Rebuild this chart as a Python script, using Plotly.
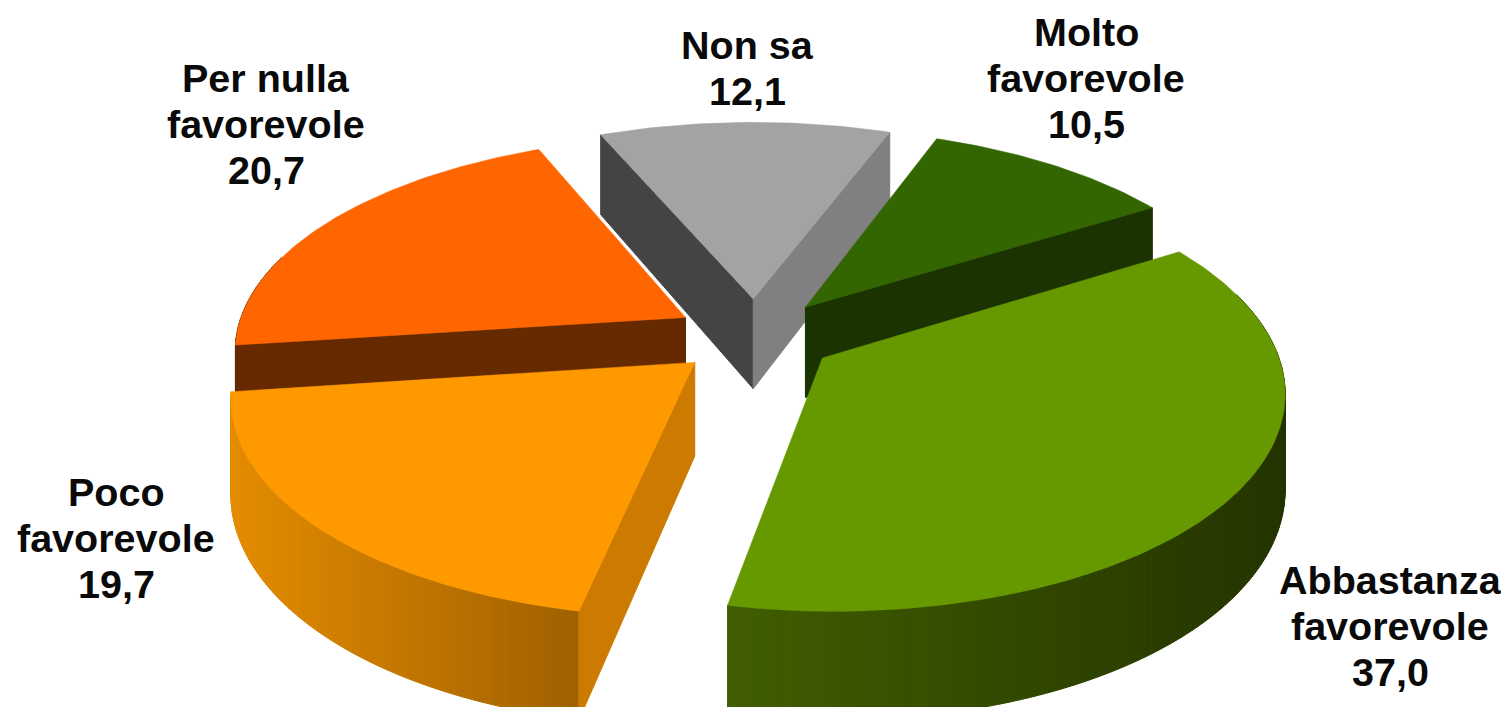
import math
import plotly.graph_objects as go

# data
categories = ["Molto favorevole", "Abbastanza favorevole", "Poco favorevole", "Per nulla favorevole", "Non sa"]
values = [10.5, 37.0, 19.7, 20.7, 12.1]
label_lines = [["Molto", "favorevole", "10,5"], ["Abbastanza", "favorevole", "37,0"],
               ["Poco", "favorevole", "19,7"], ["Per nulla", "favorevole", "20,7"], ["Non sa", "12,1"]]

# style
top_colors = ["#336600", "#669900", "#FF9900", "#FF6600", "#A3A3A3"]
start_wall = ["#1A3300", "#2D4400", "#CC7A00", "#662900", "#444444"]
end_wall = ["#1A3300", "#2D4400", "#CC7A00", "#662900", "#808080"]
rim_left = [(26, 51, 0), (64, 94, 0), (228, 140, 0), (102, 41, 0), (80, 80, 80)]
rim_right = [(26, 51, 0), (36, 52, 0), (160, 96, 0), (102, 41, 0), (80, 80, 80)]
draw_order = [4, 0, 3, 1, 2]
label_x = [1078, 1382, 108, 258, 739]
label_first_y = [24, 572, 484, 70, 37]
LINE_STEP = 46

# projection parameters
START_ANGLE = 20.5
CX, CY = 747.0, 328.0
RX, RY, DEPTH = 450.0, 211.0, 92.0
PERSP = 0.14
EXPLODE = 0.18


def project(u, v, z):
    d = 1 + PERSP * v
    return CX + RX * u / d, CY - RY * v / d + DEPTH * z / d


def polar(theta, mid):
    u = math.sin(math.radians(theta)) + EXPLODE * math.sin(math.radians(mid))
    v = math.cos(math.radians(theta)) + EXPLODE * math.cos(math.radians(mid))
    return u, v


def area(pts):
    s = 0
    for i in range(len(pts)):
        a, b = pts[i], pts[(i + 1) % len(pts)]
        s += a[0] * b[1] - b[0] * a[1]
    return s


fig = go.Figure()


def poly(pts, color, width=1.0):
    xs = [p[0] for p in pts] + [pts[0][0]]
    ys = [p[1] for p in pts] + [pts[0][1]]
    fig.add_trace(go.Scatter(x=xs, y=ys, mode="lines", fill="toself", fillcolor=color,
                             line=dict(color=color, width=width), hoverinfo="skip", showlegend=False))


total = sum(values)
spans = []
a = START_ANGLE
for val in values:
    b = a + val / total * 360
    spans.append((a, b))
    a = b

for i in draw_order:
    a0, a1 = spans[i]
    mid = (a0 + a1) / 2
    eu, ev = EXPLODE * math.sin(math.radians(mid)), EXPLODE * math.cos(math.radians(mid))
    n = max(12, int((a1 - a0) / 1.0))
    thetas = [a0 + (a1 - a0) * k / n for k in range(n + 1)]
    xs_all = [project(*polar(t, mid), 0)[0] for t in thetas]
    lo, hi = min(xs_all), max(xs_all)
    # outer rim
    for k in range(n):
        t0, t1 = thetas[k], thetas[k + 1]
        if math.cos(math.radians(t0)) > 0.3 and math.cos(math.radians(t1)) > 0.3:
            continue
        q = [project(*polar(t0, mid), 0), project(*polar(t1, mid), 0),
             project(*polar(t1, mid), 1), project(*polar(t0, mid), 1)]
        f = ((q[0][0] + q[1][0]) / 2 - lo) / max(hi - lo, 1)
        c = [round(rim_left[i][j] + (rim_right[i][j] - rim_left[i][j]) * f) for j in range(3)]
        poly(q, f"rgb({c[0]},{c[1]},{c[2]})")
    # cut walls
    w0 = [project(eu, ev, 0), project(*polar(a0, mid), 0), project(*polar(a0, mid), 1), project(eu, ev, 1)]
    w1 = [project(eu, ev, 0), project(*polar(a1, mid), 0), project(*polar(a1, mid), 1), project(eu, ev, 1)]
    if area(w0) < 0:
        poly(w0, start_wall[i])
    if area(w1) > 0:
        poly(w1, end_wall[i])
    # top face
    poly([project(eu, ev, 0)] + [project(*polar(t, mid), 0) for t in thetas], top_colors[i], 0.5)

for lines, x, y0 in zip(label_lines, label_x, label_first_y):
    for k, line in enumerate(lines):
        fig.add_annotation(x=x, y=y0 + k * LINE_STEP, text=line, showarrow=False, align="center",
                           xanchor="center", yanchor="middle",
                           font=dict(family="Liberation Sans", size=39.5, color="#0A0A0A", weight="bold"))

fig.update_xaxes(range=[0, 1509], visible=False, fixedrange=True)
fig.update_yaxes(range=[707, 0], visible=False, fixedrange=True)
fig.update_layout(width=1509, height=707, margin=dict(l=0, r=0, t=0, b=0),
                  paper_bgcolor="white", plot_bgcolor="white", showlegend=False)
fig.write_html("out.html")
